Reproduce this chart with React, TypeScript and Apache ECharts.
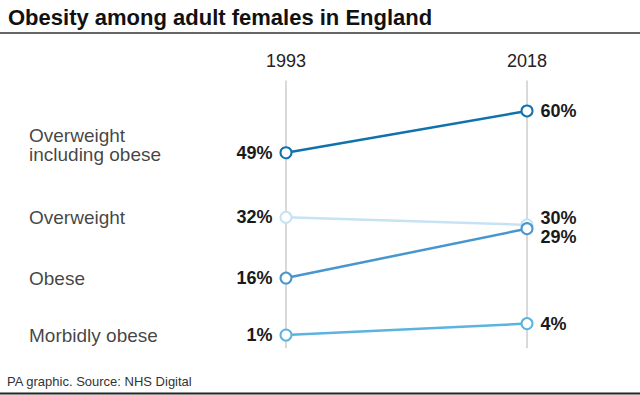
import React, { useEffect, useRef } from "react";
import * as echarts from "echarts";

const years = ["1993", "2018"];
const categories = ["Overweight\nincluding obese", "Overweight", "Obese", "Morbidly obese"];
const values1993 = [49, 32, 16, 1];
const values2018 = [60, 30, 29, 4];
const colors = ["#0f72ad", "#c6e3f3", "#4796cf", "#5bb3e0"];
const endLabelOffsets = [0, -7, 8, 0];
const nameOffsets = [-8, 0, 0, 0];

const FONT = "Liberation Sans, Arial, Helvetica, sans-serif";

export default function App() {
  const ref = useRef<HTMLDivElement>(null);
  useEffect(() => {
    if (!ref.current) return;
    const chart = echarts.init(ref.current, undefined, { renderer: "svg" });
    const lineSeries = categories.map((name, i) => ({
      type: "line",
      name,
      data: [
        {
          value: values1993[i],
          label: {
            show: true,
            position: "left",
            distance: 7,
            formatter: "{c}%",
          },
        },
        {
          value: values2018[i],
          label: {
            show: true,
            position: "right",
            distance: 7,
            offset: [0, endLabelOffsets[i]],
            formatter: "{c}%",
          },
        },
      ],
      symbol: "emptyCircle",
      symbolSize: 11,
      z: i === 1 ? 1 : 3,
      lineStyle: { color: colors[i], width: 2.5 },
      itemStyle: { color: colors[i], borderColor: colors[i], borderWidth: 2.5 },
      label: {
        color: "#1a1a1a",
        fontFamily: FONT,
        fontSize: 18,
        fontWeight: "bold",
      },
      emphasis: { disabled: true },
    }));
    const nameSeries = {
      type: "scatter",
      symbolSize: 0,
      silent: true,
      data: categories.map((name, i) => ({
        value: [0, values1993[i]],
        name,
        label: { offset: [-257, nameOffsets[i]] },
      })),
      label: {
        show: true,
        position: "left",
        distance: 0,
        align: "left",
        formatter: (p: any) => p.name,
        color: "#111111",
        fontFamily: FONT,
        fontSize: 19,
        lineHeight: 19,
      },
    };
    chart.setOption({
      animation: false,
      backgroundColor: "#ffffff",
      grid: { left: 286, right: 113, top: 80.6, bottom: 46.7 },
      xAxis: {
        type: "category",
        data: years,
        position: "top",
        boundaryGap: false,
        axisLine: { show: false },
        axisTick: { show: false },
        axisLabel: {
          margin: 11,
          color: "#222",
          fontFamily: FONT,
          fontSize: 18,
        },
        splitLine: { show: true, lineStyle: { color: "#cccccc", width: 1.5 } },
      },
      yAxis: {
        type: "value",
        min: -2.5,
        max: 68,
        show: false,
        splitLine: { show: false },
      },
      graphic: [
        {
          type: "text",
          left: 8,
          top: 6,
          style: {
            text: "Obesity among adult females in England",
            fontFamily: FONT,
            fontSize: 22,
            fontWeight: "bold",
            fill: "#111",
          },
        },
        {
          type: "line",
          shape: { x1: 0, y1: 33, x2: 640, y2: 33 },
          style: { stroke: "#333", lineWidth: 1.5 },
        },
        {
          type: "text",
          left: 7,
          top: 375,
          style: {
            text: "PA graphic. Source: NHS Digital",
            fontFamily: FONT,
            fontSize: 13,
            fill: "#333",
          },
        },
        {
          type: "line",
          shape: { x1: 0, y1: 393.5, x2: 640, y2: 393.5 },
          style: { stroke: "#222", lineWidth: 2 },
        },
      ],
      series: [...lineSeries, nameSeries],
    });
    return () => chart.dispose();
  }, []);
  return (
    <div
      ref={ref}
      style={{ position: "fixed", left: 0, top: 0, width: 640, height: 395 }}
    />
  );
}
